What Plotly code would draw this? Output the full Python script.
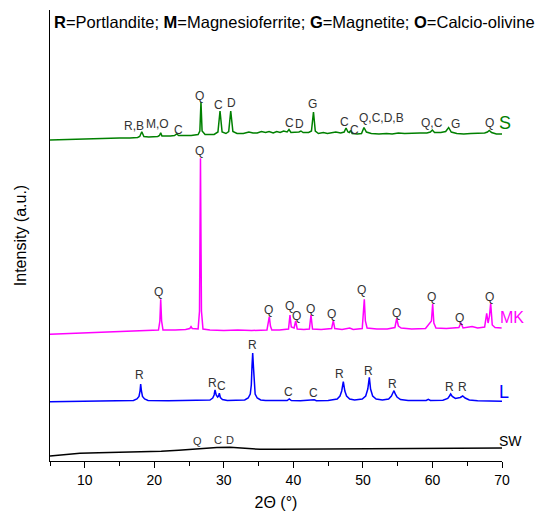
import plotly.graph_objects as go

# ---------------- data (2theta, intensity in arbitrary offset units) ----------------
S_points = [(5, 321), (7, 321.5), (9, 322), (11, 322.3), (13, 322.5), (15, 323), (16.5, 323),
            (17.6, 323.5), (17.9, 324.5), (18.2, 329.3), (18.5, 324.5), (19.2, 324), (20.5, 324.5),
            (20.75, 325.5), (20.92, 328.3), (21.1, 325), (22.3, 325), (22.9, 325.5), (23.22, 327),
            (23.5, 325.5), (25.3, 325.5), (26.3, 326.5), (26.55, 330), (26.71, 359), (26.87, 330),
            (27.3, 326.5), (28.6, 326.5), (29.15, 329), (29.45, 350), (29.75, 329), (30.3, 327.5),
            (30.7, 329.5), (30.99, 350), (31.3, 329.5), (31.9, 327.5), (32.8, 327.5), (33.6, 329),
            (34.2, 328), (34.8, 328), (35.4, 329.5), (36.0, 328.5), (36.5, 329.5), (37.1, 328),
            (37.6, 329.5), (38.1, 328.5), (38.6, 330), (39.1, 329), (39.37, 331.5), (39.65, 328.5),
            (40.2, 328.5), (40.8, 329), (41.09, 330), (41.4, 328.5), (42.2, 328.5), (42.6, 330),
            (42.89, 349), (43.15, 330), (43.6, 327.5), (44.3, 328.5), (44.9, 327.5), (45.5, 328),
            (46.1, 329), (46.8, 328), (47.3, 329), (47.57, 333), (47.85, 329), (48.05, 328.5),
            (48.24, 330.5), (48.45, 327.5), (49.2, 327), (49.8, 327.5), (50.15, 333.5), (50.5, 329),
            (51.2, 327.5), (52.3, 327), (53.4, 327.5), (54.2, 327), (55.1, 328), (56.0, 327.5),
            (57.0, 328), (58.2, 328), (59.2, 328), (59.7, 329), (59.98, 331), (60.3, 328.5),
            (61.2, 328.5), (61.9, 329.5), (62.33, 333.5), (62.7, 329), (63.5, 327.5), (64.5, 327),
            (65.5, 327.5), (66.5, 327.5), (67.5, 328), (67.9, 329), (68.17, 330.5), (68.5, 328.5),
            (69.2, 327), (70, 327)]

MK_points = [(5, 126.7), (8, 127.5), (11, 128), (14, 129), (17, 129.5), (19.5, 130), (20.6, 131),
             (20.8, 140), (20.92, 161.7), (21.05, 140), (21.25, 131), (23, 131), (24.5, 131.5),
             (25.1, 132.5), (25.28, 134.3), (25.45, 132.5), (26.3, 132), (26.5, 150), (26.64, 302.7),
             (26.78, 150), (27.0, 132), (28, 131), (30, 130.5), (32, 131), (34, 130.5), (36.2, 131),
             (36.4, 137), (36.54, 144.3), (36.7, 135), (36.9, 131), (38, 131), (39.3, 132),
             (39.51, 146), (39.7, 134), (40.1, 133), (40.33, 140), (40.55, 132), (41.5, 131.5),
             (42.3, 132), (42.53, 146), (42.75, 132), (44, 131.5), (45.5, 132.5), (45.74, 140.3),
             (45.95, 132.5), (47, 131.5), (48.1, 133), (48.6, 131.5), (49.9, 132.5), (50.05, 145),
             (50.2, 161.7), (50.35, 140), (50.6, 133), (52, 132), (53.5, 132), (54.6, 133.5),
             (54.86, 142.7), (55.1, 135), (55.5, 133), (57, 132), (59, 132.5), (59.85, 140),
             (60.03, 157), (60.2, 138), (60.5, 133), (62, 132.5), (63.8, 133.5), (64.1, 138.3),
             (64.4, 133), (65.7, 134.5), (66.5, 133), (67.5, 134), (67.8, 147.7), (68.0, 138),
             (68.2, 145), (68.37, 157.7), (68.6, 136), (69, 133.5), (69.95, 133)]

L_points = [(5, 59.3), (8, 59.6), (11, 60), (14, 60.2), (16.5, 60.3), (17.0, 60.5), (17.5, 62),
            (17.8, 64.5), (17.95, 70), (18.04, 77), (18.15, 70), (18.3, 64.5), (18.6, 62), (19.1, 60.5),
            (22, 60.3), (25, 60.5), (28.0, 61), (28.4, 63), (28.6, 66), (28.73, 71), (28.9, 66),
            (29.1, 64), (29.25, 65), (29.35, 67.7), (29.5, 63.5), (29.8, 61.5), (30.5, 60.5),
            (33.0, 61), (33.5, 63), (33.8, 67), (33.95, 76), (34.05, 95), (34.15, 108), (34.25, 95),
            (34.35, 76), (34.5, 67), (34.8, 63), (35.3, 61), (36, 60.5), (38, 60.5), (39.1, 60.5),
            (39.41, 62), (39.7, 60.5), (41, 60.3), (42.7, 60.5), (43.01, 61.2), (43.3, 60.3),
            (45, 60.5), (46.3, 62), (46.7, 65), (46.95, 70), (47.18, 79.3), (47.4, 70), (47.65, 65),
            (48.1, 62), (48.8, 61), (49.9, 62), (50.4, 65), (50.7, 72), (50.92, 83.7), (51.1, 72),
            (51.4, 65), (51.9, 62), (52.8, 61), (53.7, 62), (54.1, 65), (54.3, 68), (54.47, 70.3),
            (54.65, 67), (54.9, 64), (55.4, 61.5), (56.5, 60.5), (58, 60.5), (59.1, 60.5),
            (59.4, 61.7), (59.7, 60.5), (61.5, 60.7), (62.2, 62.5), (62.45, 65), (62.62, 67),
            (62.85, 64.5), (63.3, 62.5), (64.0, 63.5), (64.35, 65), (64.7, 63), (65.3, 61),
            (66.5, 60.3), (68, 60), (70, 59.8)]

SW_points = [(5, 5), (7, 6.5), (9.3, 7.7), (12, 8.3), (15, 8.6), (18, 9.2), (21, 9.8), (23.5, 10.8),
             (25.1, 11.7), (27, 13), (29, 13.5), (30.9, 13.7), (32.5, 13), (34, 12), (35.2, 11.7),
             (38, 11.8), (42, 12), (44.5, 12.3), (46, 11.9), (50, 12), (55, 12.2), (60, 12.4),
             (65, 12.6), (67.5, 13), (70, 13)]

# phase labels: (text, 2theta, y)
S_labels = [("R,B", 17.08, 335), ("M,O", 20.53, 336.7), ("C", 23.45, 331), ("Q", 26.57, 365.3),
            ("C", 29.3, 356), ("D", 31.12, 357.7), ("C", 39.37, 337.7), ("D", 40.95, 337),
            ("G", 42.72, 357), ("C", 47.3, 339), ("C", 48.75, 331.5), ("Q,C,D,B", 52.74, 342.7),
            ("Q,C", 59.93, 338.3), ("G", 63.28, 336.7), ("Q", 68.17, 338.3)]
MK_labels = [("Q", 20.67, 168.7), ("Q", 26.43, 310.3), ("Q", 36.39, 151), ("Q", 39.41, 155.3),
             ("Q", 40.48, 145.3), ("Q", 42.39, 152), ("Q", 45.5, 146.7), ("Q", 49.82, 171),
             ("Q", 54.76, 148.3), ("Q", 59.89, 163.7), ("Q", 63.86, 143.3), ("Q", 68.17, 163.7)]
L_labels = [("R", 17.94, 86), ("R", 28.34, 77.7), ("C", 29.69, 75.3), ("R", 34.09, 116),
            ("C", 39.27, 69.3), ("C", 42.96, 67.7), ("R", 46.7, 87), ("R", 50.78, 90),
            ("R", 54.22, 77), ("R", 62.52, 73.7), ("R", 64.29, 73.7)]
SW_labels = [("Q", 26.28, 20.3), ("C", 29.11, 21), ("D", 30.93, 21)]

# series: name, points, colour, label paper-x, label paper-y, label size
series = [
    ("S", S_points, "#008000", 1.0066, 0.7488, 18),
    ("MK", MK_points, "#ff00ff", 1.0215, 0.3177, 16),
    ("L", L_points, "#0000ff", 1.0044, 0.1537, 18),
    ("SW", SW_points, "#000000", 1.0177, 0.045, 14),
]

FONT = "Arial, Liberation Sans, sans-serif"

fig = go.Figure()
annotations = []
for name, pts, color, lx, ly, fs in series:
    xs = [p[0] for p in pts]
    ys = [p[1] for p in pts]
    fig.add_trace(go.Scatter(x=xs, y=ys, mode="lines", name=name,
                             line=dict(color=color, width=1.5), showlegend=False,
                             cliponaxis=False))
    annotations.append(dict(x=lx, y=ly, xref="paper", yref="paper", text=name, showarrow=False,
                            font=dict(family=FONT, size=fs, color=color),
                            xanchor="center", yanchor="middle"))

for labels, fs in [(S_labels, 12), (MK_labels, 12), (L_labels, 12), (SW_labels, 11)]:
    for t, x, y in labels:
        annotations.append(dict(x=x, y=y, xref="x", yref="y", text=t, showarrow=False,
                                font=dict(family=FONT, size=fs, color="#333333"),
                                xanchor="center", yanchor="middle"))

annotations.append(dict(x=0.004, y=0.9734, xref="paper", yref="paper",
                        text="<b>R</b>=Portlandite; <b>M</b>=Magnesioferrite; <b>G</b>=Magnetite; <b>O</b>=Calcio-olivine",
                        showarrow=False, xanchor="left", yanchor="middle",
                        font=dict(family=FONT, size=16.5, color="#000000")))

fig.update_layout(
    width=538, height=518,
    margin=dict(l=50, r=36, t=10, b=57),
    paper_bgcolor="white", plot_bgcolor="white",
    font=dict(family=FONT, color="#000000"),
    annotations=annotations,
    xaxis=dict(range=[5, 70], tickvals=[10, 20, 30, 40, 50, 60, 70], ticks="outside",
               ticklen=6, tickwidth=1, tickcolor="black", showline=True, linecolor="black",
               linewidth=1, showgrid=False, zeroline=False, tickfont=dict(size=14),
               minor=dict(tickvals=[5, 15, 25, 35, 45, 55, 65], ticks="outside", ticklen=4,
                          tickcolor="black"),
               title=dict(text="2Θ (°)", font=dict(size=16), standoff=10)),
    yaxis=dict(range=[0, 451], showticklabels=False, ticks="", showline=True, linecolor="black",
               linewidth=1, showgrid=False, zeroline=False,
               title=dict(text="Intensity (a.u.)", font=dict(size=16), standoff=18)),
)

fig.write_html("out.html")
